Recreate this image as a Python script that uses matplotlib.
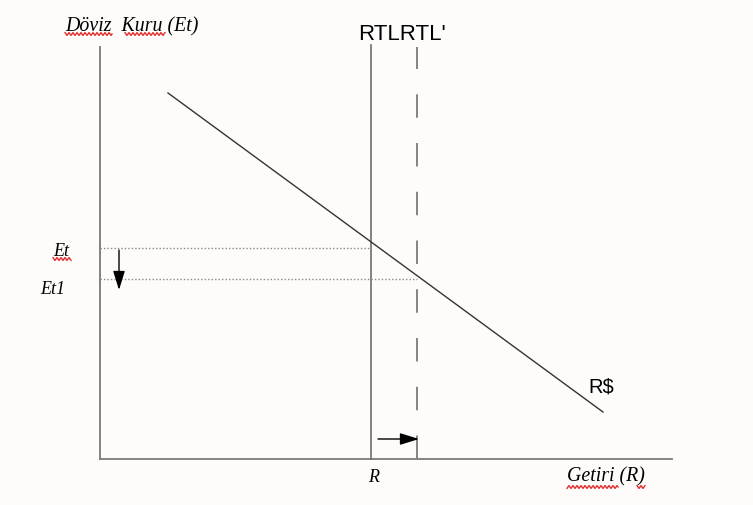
import matplotlib.pyplot as plt
import numpy as np

# diagram units: origin at the corner of the axes, y pointing up
Y_TOP = 412
X_END = 572
R = 271          # RTL
R_NEW = 317      # RTL' (shifted right)
ET = 211
ET1 = 180
RD_X = [68, 503]     # R$ schedule
RD_Y = [366, 47]

SERIF = ['Liberation Serif', 'DejaVu Serif']
SANS = ['Liberation Sans', 'DejaVu Sans']
HEAD = '-|>,head_length=0.58,head_width=0.18'


def squiggle(ax, x0, x1, y):
    # red spell-check underline
    xs = np.linspace(x0, x1, int((x1 - x0) * 3) + 2)
    ax.plot(xs, y + 1.3 * np.sin(xs * 2 * np.pi / 4), color='#e03030', lw=1.0)


fig = plt.figure(figsize=(7.53, 5.05), dpi=100)
fig.patch.set_facecolor('#fdfcfb')
ax = fig.add_axes([0, 0, 1, 1])
ax.set_xlim(-100, 653)
ax.set_ylim(-46, 459)
ax.axis('off')

gray = '#7a7a7a'
ax.plot([0, 0], [0, Y_TOP], color=gray, lw=1.3)
ax.plot([0, X_END], [0, 0], color=gray, lw=1.3)
ax.plot([R, R], [0, Y_TOP + 2], color='#6e6e6e', lw=1.2)
ax.plot([R_NEW, R_NEW], [0, Y_TOP], color=gray, lw=1.3, dashes=(13, 14))
ax.plot(RD_X, RD_Y, color='#333333', lw=1.0)

ax.plot([0, R], [ET, ET], color='#888888', lw=1.0, ls=(0, (1, 1.5)))
ax.plot([0, R_NEW], [ET1, ET1], color='#888888', lw=1.0, ls=(0, (1, 1.5)))

ax.annotate('', xy=(19, 169), xytext=(19, ET - 2),
            arrowprops=dict(arrowstyle=HEAD, color='black', lw=1.0,
                            mutation_scale=20, shrinkA=0, shrinkB=0))
ax.annotate('', xy=(R_NEW + 2, 20), xytext=(278, 20),
            arrowprops=dict(arrowstyle=HEAD, color='black', lw=1.0,
                            mutation_scale=20, shrinkA=0, shrinkB=0))

ax.text(-35, 432, 'Döviz  Kuru (Et)', family=SERIF, style='italic',
        fontsize=14.3, ha='left', va='center')
squiggle(ax, -35, 12, 425)
squiggle(ax, 25, 65, 425)
ax.text(R - 13, 425, 'RTLRTL\'', family=SANS, fontsize=16, ha='left', va='center')
ax.text(-47, 208, 'Et', family=SERIF, style='italic', fontsize=13,
        ha='left', va='center')
squiggle(ax, -47, -29, 200)
ax.text(-60, 170, 'Et1', family=SERIF, style='italic', fontsize=13,
        ha='left', va='center')
ax.text(R + 3, -18, 'R', family=SERIF, style='italic', fontsize=13,
        ha='center', va='center')
ax.text(467, -18, 'Getiri (R)', family=SERIF, style='italic', fontsize=14.3,
        ha='left', va='center')
squiggle(ax, 467, 518, -28)
squiggle(ax, 537, 545, -28)
ax.text(488, 72, 'R$', family=SANS, fontsize=14.5, ha='left', va='center')

fig.savefig('out.png', dpi=100, facecolor=fig.get_facecolor())
